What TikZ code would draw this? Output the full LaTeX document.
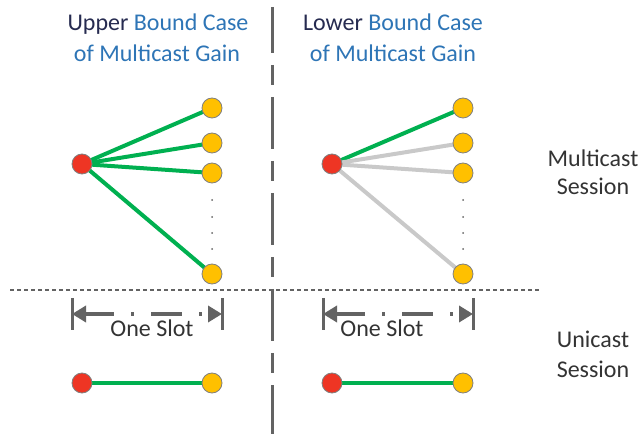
\documentclass[tikz,border=0pt]{standalone}
\usepackage{fontspec}
\setmainfont{Carlito}
\usetikzlibrary{arrows.meta,backgrounds}
\definecolor{navy}{HTML}{262B50}
\definecolor{capblue}{HTML}{2E75B6}
\definecolor{linkgreen}{HTML}{00B050}
\definecolor{linkgray}{HTML}{C9C9C9}
\definecolor{srcred}{HTML}{EE3524}
\definecolor{rxyellow}{HTML}{FFC000}
\definecolor{rimgray}{HTML}{7F7F7F}
\definecolor{rulegray}{HTML}{636363}
\definecolor{labelgray}{HTML}{333333}
\newlength{\px}
\setlength{\px}{0.75pt}
\tikzset{
  src/.style={circle, minimum size=20\px, inner sep=0pt, fill=srcred, draw=rimgray, line width=0.8\px},
  rx/.style={circle, minimum size=20\px, inner sep=0pt, fill=rxyellow, draw=rimgray, line width=0.8\px},
  active/.style={draw=linkgreen, line width=4\px},
  idle/.style={draw=linkgray, line width=4\px},
  unilink/.style={draw=linkgreen, line width=3.5\px},
  txt/.style={font=\fontsize{18pt}{21pt}\selectfont, inner sep=0pt, anchor=base},
  slotbar/.style={draw=rulegray, line width=3\px},
  slotarrow/.style={draw=rulegray, line width=4\px, dash pattern=on 31\px off 17\px on 3\px off 17\px, dash phase=2\px,
    {Triangle[length=10.5pt,width=12pt]}-{Triangle[length=10.5pt,width=12pt]}},
  vdots/.style={circle, fill=rulegray, inner sep=0pt, minimum size=2\px},
}
\begin{document}
\begin{tikzpicture}[x=1\px, y=-1\px]
\useasboundingbox (0,0) rectangle (642,434);

% headings
\node[txt, text=navy] (h1a) at (158,31) {Upper \textcolor{capblue}{Bound Case}};
\node[txt, text=capblue] (h1b) at (157,61.7) {of Multicast Gain};
\node[txt, text=navy] (h2a) at (393,31) {Lower \textcolor{capblue}{Bound Case}};
\node[txt, text=capblue] (h2b) at (393,61.7) {of Multicast Gain};

% session labels
\node[txt, text=labelgray] (ms1) at (593,167) {Multicast};
\node[txt, text=labelgray] (ms2) at (593,194.5) {Session};
\node[txt, text=labelgray] (us1) at (593,348) {Unicast};
\node[txt, text=labelgray] (us2) at (593,377) {Session};

% separators
\coordinate (vt) at (272.7,7);
\coordinate (vb) at (272.7,434);
\draw[draw=rulegray, line width=2.7\px, dash pattern=on 52\px off 12\px on 20\px off 12\px, dash phase=6\px] (vt) -- (vb);
\coordinate (hl) at (10,290);
\coordinate (hr) at (539,290);
\draw[draw=rulegray, line width=2\px, dash pattern=on 4\px off 3\px] (hl) -- (hr);

% multicast session, upper bound
\node[src] (s1) at (82,164) {};
\node[rx] (a1) at (212,108) {};
\node[rx] (a2) at (212,143) {};
\node[rx] (a3) at (212,173) {};
\node[rx] (a4) at (212,274) {};
\foreach \y [count=\i] in {200,217,233,249} \node[vdots] (ad\i) at (212,\y) {};

% multicast session, lower bound
\node[src] (s2) at (332,164) {};
\node[rx] (b1) at (463,108) {};
\node[rx] (b2) at (463,143) {};
\node[rx] (b3) at (463,173) {};
\node[rx] (b4) at (463,274) {};
\foreach \y [count=\i] in {200,217,233,249} \node[vdots] (bd\i) at (463,\y) {};

% unicast session
\node[src] (u1) at (82,383) {};
\node[rx] (v1) at (212,383) {};
\node[src] (u2) at (332,383) {};
\node[rx] (v2) at (463,383) {};

\begin{scope}[on background layer]
  \foreach \t in {a1,a2,a3,a4} \draw[active] (s1.center) -- (\t.center);
  \draw[active] (s2.center) -- (b1.center);
  \foreach \t in {b2,b3,b4} \draw[idle] (s2.center) -- (\t.center);
  \draw[unilink] (u1.center) -- (v1.center);
  \draw[unilink] (u2.center) -- (v2.center);
\end{scope}

% slot markers
\coordinate (l1t) at (72,298); \coordinate (l1b) at (72,330);
\coordinate (r1t) at (222,298); \coordinate (r1b) at (222,330);
\coordinate (l1m) at (72,314); \coordinate (r1m) at (222,314);
\draw[slotbar] (l1t) -- (l1b);
\draw[slotbar] (r1t) -- (r1b);
\draw[slotarrow] (l1m) -- (r1m);
\node[txt, text=labelgray] (slot1) at (152,336.7) {One Slot};

\coordinate (l2t) at (323,298); \coordinate (l2b) at (323,330);
\coordinate (r2t) at (473,298); \coordinate (r2b) at (473,330);
\coordinate (l2m) at (323,314); \coordinate (r2m) at (473,314);
\draw[slotbar] (l2t) -- (l2b);
\draw[slotbar] (r2t) -- (r2b);
\draw[slotarrow] (l2m) -- (r2m);
\node[txt, text=labelgray] (slot2) at (382,336.7) {One Slot};
\end{tikzpicture}
\end{document}
